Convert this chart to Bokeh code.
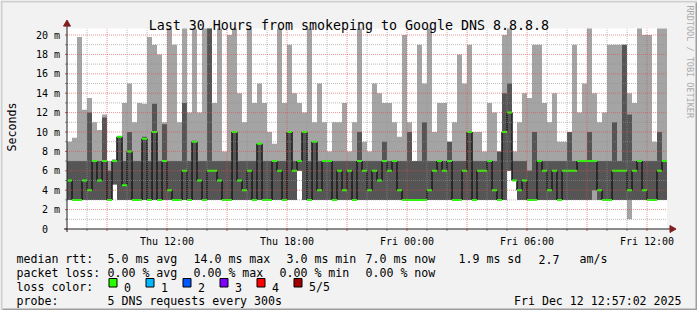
import math
import pandas as pd
from bokeh.plotting import figure
from bokeh.core.properties import value
from bokeh.models import Range1d, ColumnDataSource
from bokeh.embed import file_html
from bokeh.resources import INLINE

# ---------------- data (ms) ----------------
START = "2025-12-11 07:00"
SPAN_HOURS = 30
BIN_MINUTES = 15
Y_TOP = 20.66

hi = [9.0, 9.4, 19.8, 12.3, 13.5, 11, 10.2, 11.8, 7, 7.2, 9.6, 13, 15, 11, 13, 12.9, 19.8, 19, 18, 11,
      20.7, 19, 11, 20.7, 12, 20.6, 12, 20.7, 20.7, 13,
      20.7, 8, 20, 20.7, 14, 11, 20.7, 13, 15, 13, 10, 8.8, 20.7, 13, 19, 14, 13, 12, 20.7, 11,
      15, 11, 8, 11, 11, 13, 8, 11, 20.7, 9,
      8, 15, 14, 13, 13, 11, 9.5, 20, 11, 7, 19, 15, 20.7, 10, 13, 13, 9, 11, 18, 15,
      19, 10, 10, 8, 13, 12, 8, 20, 20.7, 8,
      11, 14, 13.5, 19, 19, 13, 11, 14, 9, 9, 10, 19, 12, 15, 20.7, 14, 11, 12, 19, 19,
      19, 19, 14, 13, 20.7, 20, 20, 9, 20.7, 20.7]
q3 = [7, 7, 7, 7, 12, 7, 7, 11.5, 6, 7, 9.5, 7, 10, 7, 7, 9.5, 7, 12.9, 7, 10.8,
      7, 7, 7, 13, 7, 9.1, 7, 7, 20.7, 7,
      7, 7, 7, 10, 7, 7, 7, 7, 8.8, 7, 7, 7, 7, 7, 10, 7, 7, 10, 7, 9,
      7, 7, 7, 7, 7, 7, 7, 7, 10, 7,
      7, 7, 7, 9, 7, 7, 7, 7, 10, 7, 7, 11, 7, 7, 7, 7, 9, 7, 7, 7,
      10, 7, 7, 7, 7, 7, 8, 14, 15, 7,
      7, 7, 6, 10, 7, 7, 7, 7, 7, 7, 10, 7, 7, 7, 10, 7, 7, 7, 7, 11,
      7, 19, 11.8, 7, 7, 7, 7, 7, 10, 7]
med = [5, 3, 3, 5, 4, 7, 5, 7, 3, 7, 9.5, 4.5, 8, 3, 3, 9.3, 3, 10, 3, 7,
       4, 3, 3, 6, 3, 9, 5, 3, 6, 6,
       5, 3, 3, 10, 5, 4, 6, 3, 8.8, 3, 3, 7, 6, 3, 10, 6, 7, 10, 3, 9,
       4, 7, 7, 3, 6, 4, 6, 3, 7, 6,
       4, 6, 5, 7, 6, 7, 4, 3, 3, 3, 3, 3, 4, 6, 7, 6, 7, 3, 3, 6,
       10, 3, 6, 6, 7, 4, 3, 10, 12, 5,
       4, 5, 3, 3, 7, 6, 4, 6, 3, 6, 6, 6, 7, 7, 7, 7, 4, 3, 3, 6,
       6, 6, 4, 6, 7, 4, 3, 3, 6, 7]
q1 = [3] * 120
lo = [3] * 120
for i, v in [(9, 4.6), (46, 6), (88, 6), (89, 5)]:
    q1[i] = v
    lo[i] = v
q1[105] = 4
lo[112] = 1

y_ticks = [0, 2, 4, 6, 8, 10, 12, 14, 16, 18, 20]
y_minor = [1, 3, 5, 7, 9, 11, 13, 15, 17, 19]
y_tick_labels = ["0\u00a0\u00a0", "2 m", "4 m", "6 m", "8 m", "10 m", "12 m", "14 m",
                 "16 m", "18 m", "20 m"]
x_label_times = ["2025-12-11 12:00", "2025-12-11 18:00", "2025-12-12 00:00",
                 "2025-12-12 06:00", "2025-12-12 12:00"]
x_tick_labels = ["Thu 12:00", "Thu 18:00", "Fri 00:00", "Fri 06:00", "Fri 12:00"]

title = "Last 30 Hours from smokeping to Google DNS 8.8.8.8"
y_title = "Seconds"
credit = "RRDTOOL / TOBI OETIKER"
rtt_stats = ["5.0 ms avg", "14.0 ms max", "3.0 ms min", "7.0 ms now", "1.9 ms sd", "2.7", "am/s"]
loss_stats = ["0.00 % avg", "0.00 % max", "0.00 % min", "0.00 % now"]
loss_labels = ["0", "1", "2", "3", "4", "5/5"]
loss_colors = ["#26ff00", "#00b8ff", "#0059ff", "#7e00ff", "#ff0000", "#a10000"]
probe_text = "5 DNS requests every 300s"
stamp = "Fri Dec 12 12:57:02 2025"

# ---------------- layout helpers (canvas px -> data) ----------------
W, H = 697, 310
X0, Y0 = 66.5, 228.5          # canvas position of (start, 0 ms)
HPX = 20.0                    # px per hour
VPX = 9.7                     # px per ms
t0 = pd.Timestamp(START)
t_end = t0 + pd.Timedelta(hours=SPAN_HOURS)


def cx(X):
    return t0 + pd.Timedelta(hours=(X - X0) / HPX)


def cy(Y):
    return (Y0 - Y) / VPX


PX = pd.Timedelta(hours=1 / HPX)   # one pixel in time
PY = 1 / VPX                       # one pixel in ms

p = figure(width=W, height=H, x_range=Range1d(cx(0), cx(W)), y_range=Range1d(cy(H), cy(0)),
           x_axis_type=None, y_axis_type=None, output_backend="svg", toolbar_location=None,
           min_border=0)
p.background_fill_color = "#F2F2F2"
p.border_fill_color = "#F2F2F2"
p.outline_line_color = None
p.grid.visible = False

# canvas (plot area)
p.quad(left=[t0], right=[t_end], bottom=[0], top=[Y_TOP], fill_color="white", line_color=None)

# smoke
n = len(hi)
left = [t0 + pd.Timedelta(minutes=BIN_MINUTES * i) for i in range(n)]
right = [t + pd.Timedelta(minutes=BIN_MINUTES) for t in left]
src = ColumnDataSource(dict(left=left, right=right, hi=[min(v, Y_TOP) for v in hi],
                            q3=[min(v, Y_TOP) for v in q3], med=med, q1=q1, lo=lo))
p.quad(left="left", right="right", bottom="lo", top="hi", source=src,
       fill_color="#A4A4A4", line_color=None)
p.quad(left="left", right="right", bottom="q1", top="q3", source=src,
       fill_color="#555555", line_color=None)
conn = ColumnDataSource(dict(x=left[1:], y0=med[:-1], y1=med[1:]))
p.segment(x0="x", y0="y0", x1="x", y1="y1", source=conn, line_color="#1e1e1e", line_width=1.6)
p.segment(x0="left", y0="med", x1="right", y1="med", source=src,
          line_color=loss_colors[0], line_width=2)

# grid (rrdtool draws it over the graph)
hours = [t0 + pd.Timedelta(hours=h) for h in range(1, SPAN_HOURS)]
maj_h = [h for h in hours if h.hour % 3 == 0]
min_h = [h for h in hours if h.hour % 3 != 0]
p.segment(x0=min_h, y0=[0] * len(min_h), x1=min_h, y1=[Y_TOP] * len(min_h),
          line_color="#8f8f8f", line_alpha=0.6, line_dash="1 1", line_width=1)
p.segment(x0=[t0] * len(y_minor), y0=y_minor, x1=[t_end] * len(y_minor), y1=y_minor,
          line_color="#8f8f8f", line_alpha=0.6, line_dash="1 1", line_width=1)
p.segment(x0=maj_h, y0=[0] * len(maj_h), x1=maj_h, y1=[Y_TOP] * len(maj_h),
          line_color="#de4f4f", line_alpha=0.6, line_dash="1 1", line_width=1)
p.segment(x0=[t0] * 10, y0=y_ticks[1:], x1=[t_end] * 10, y1=y_ticks[1:],
          line_color="#de4f4f", line_alpha=0.6, line_dash="1 1", line_width=1)

# tick marks
p.segment(x0=min_h, y0=[0] * len(min_h), x1=min_h, y1=[-2 * PY] * len(min_h),
          line_color="#8f8f8f", line_width=1)
p.segment(x0=maj_h, y0=[0] * len(maj_h), x1=maj_h, y1=[-2 * PY] * len(maj_h),
          line_color="#de4f4f", line_width=1)
p.segment(x0=[t0 - 2 * PX] * len(y_minor), y0=y_minor, x1=[t0] * len(y_minor), y1=y_minor,
          line_color="#8f8f8f", line_width=1)
p.segment(x0=[t0 - 2 * PX] * 11, y0=y_ticks, x1=[t0] * 11, y1=y_ticks,
          line_color="#de4f4f", line_width=1)

# axes with arrows
p.segment(x0=[t0 - 3 * PX], y0=[0], x1=[t_end + 4 * PX], y1=[0], line_color="#1f1f1f", line_width=1)
p.segment(x0=[t0], y0=[-3 * PY], x1=[t0], y1=[Y_TOP + 3 * PY], line_color="#1f1f1f", line_width=1)
p.scatter(x=[t_end + 5 * PX], y=[0], marker="triangle", size=7, angle=-math.pi / 2,
          fill_color="#801f1f", line_color="#801f1f")
p.scatter(x=[t0], y=[Y_TOP + 4.5 * PY], marker="triangle", size=7,
          fill_color="#801f1f", line_color="#801f1f")

font = value("DejaVu Sans Mono")


def put_text(x, y, s, size="11.6px", align="left", baseline="alphabetic", color="black",
             angle=0.0):
    p.text(x=x, y=y, text=s, text_font=font, text_font_size=value(size),
           text_align=value(align), text_baseline=value(baseline), text_color=value(color),
           angle=angle)


# tick labels
put_text([pd.Timestamp(t) for t in x_label_times], [cy(241)] * 5, x_tick_labels,
         size="10px", align="center")
put_text([cx(59.5)] * 11, y_ticks, y_tick_labels, size="10px", align="right", baseline="middle")

# titles
put_text([cx(148.3)], [cy(24.5)], [title], size="13.3px")
put_text([cx(11)], [cy(126.5)], [y_title], align="center", baseline="middle", angle=math.pi / 2)
put_text([cx(689)], [cy(5)], [credit], size="8.5px", baseline="middle", color="#aaaaaa",
         angle=-math.pi / 2)

# legend block
put_text([cx(16)], [cy(258.5)], ["median rtt:"])
put_text([cx(X) for X in [107, 193, 286, 365, 458, 538, 579]], [cy(258.5)] * 7, rtt_stats)
put_text([cx(16)], [cy(272.5)], ["packet loss:"])
put_text([cx(X) for X in [107, 193, 279, 365]], [cy(272.5)] * 4, loss_stats)
put_text([cx(16)], [cy(286.5)], ["loss color:"])
bx = [108.5 + 37 * k for k in range(len(loss_labels))]
p.quad(left=[cx(b) for b in bx], right=[cx(b + 8) for b in bx], top=[cy(278)] * 6,
       bottom=[cy(286.5)] * 6, fill_color=loss_colors, line_color="black", line_width=1)
put_text([cx(b + 15) for b in bx], [cy(286.5)] * 6, loss_labels)
put_text([cx(16)], [cy(300.5)], ["probe:"])
put_text([cx(107)], [cy(300.5)], [probe_text])
put_text([cx(681)], [cy(300.5)], [stamp], align="right")

# 3D frame of the image
p.quad(left=[cx(0), cx(0)], right=[cx(W), cx(2)], top=[cy(0), cy(0)], bottom=[cy(2), cy(H)],
       fill_color="#CFCFCF", line_color=None)
p.quad(left=[cx(W - 2), cx(2)], right=[cx(W), cx(W)], top=[cy(2), cy(H - 2)],
       bottom=[cy(H), cy(H)], fill_color="#9E9E9E", line_color=None)

open("out.html", "w").write(file_html(p, INLINE))
